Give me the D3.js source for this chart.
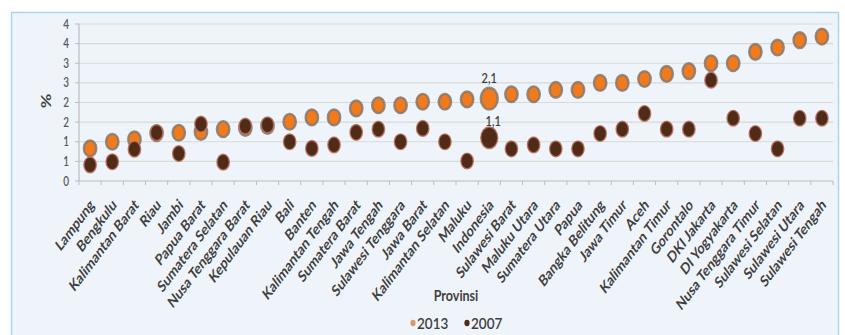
<!DOCTYPE html>
<html>
<head>
<meta charset="utf-8">
<script src="https://cdn.jsdelivr.net/npm/d3@7/dist/d3.min.js"></script>
<style>
  html, body { margin: 0; padding: 0; background: #ffffff; }
  svg { display: block; font-family: Lato, "Open Sans", sans-serif; }
</style>
</head>
<body>
<svg id="chart" width="845" height="335"></svg>
<script>
// Prevalensi per provinsi, 2013 vs 2007 (%)
const provinces = [
  "Lampung", "Bengkulu", "Kalimantan Barat", "Riau", "Jambi", "Papua Barat",
  "Sumatera Selatan", "Nusa Tenggara Barat", "Kepulauan Riau", "Bali", "Banten",
  "Kalimantan Tengah", "Sumatera Barat", "Jawa Tengah", "Sulawesi Tenggara",
  "Jawa Barat", "Kalimantan Selatan", "Maluku", "Indonesia", "Sulawesi Barat",
  "Maluku Utara", "Sumatera Utara", "Papua", "Bangka Belitung", "Jawa Timur",
  "Aceh", "Kalimantan Timur", "Gorontalo", "DKI Jakarta", "DI Yogyakarta",
  "Nusa Tenggara Timur", "Sulawesi Selatan", "Sulawesi Utara", "Sulawesi Tengah"
];
const values2013 = [
  0.83, 1.0, 1.06, 1.22, 1.23, 1.25, 1.32, 1.35, 1.4, 1.51, 1.62,
  1.62, 1.85, 1.93, 1.93, 2.02, 2.02, 2.08, 2.1, 2.21,
  2.21, 2.32, 2.32, 2.5, 2.5, 2.6, 2.73, 2.8, 3.0, 3.0,
  3.29, 3.4, 3.59, 3.68
];
const values2007 = [
  0.41, 0.49, 0.81, 1.23, 0.7, 1.45, 0.48, 1.4, 1.43, 1.0, 0.83,
  0.92, 1.24, 1.32, 1.0, 1.34, 1.0, 0.51, 1.1, 0.82,
  0.92, 0.82, 0.82, 1.21, 1.32, 1.72, 1.32, 1.32, 2.57, 1.6,
  1.21, 0.82, 1.6, 1.6
];
const seriesNames = ["2013", "2007"];
const yTickValues = [0, 0.5, 1, 1.5, 2, 2.5, 3, 3.5, 4];
const yTickLabels = ["0", "1", "1", "2", "2", "3", "3", "4", "4"];
const highlight = "Indonesia";

const svg = d3.select("#chart");
const SY = 1.27;  // vertical stretch for text and markers
const SYL = 1.33; // vertical stretch for the slanted category labels

// chart frame
svg.append("rect")
  .attr("x", 11.5).attr("y", 12.5).attr("width", 827).attr("height", 330)
  .attr("fill", "#eff4fb").attr("stroke", "#a8d6ec").attr("stroke-width", 1.5);

const x = d3.scaleBand().domain(provinces).range([79, 833]);
const y = d3.scaleLinear().domain([0, 4]).range([181, 24]);

// gridlines
svg.append("g").selectAll("line").data(yTickValues).join("line")
  .attr("x1", 79).attr("x2", 833)
  .attr("y1", d => y(d)).attr("y2", d => y(d))
  .attr("stroke", d => d === 0 ? "#b8bcc0" : "#d6dbd6").attr("stroke-width", 1.2);

// y axis line and ticks
svg.append("line").attr("x1", 79).attr("x2", 79).attr("y1", y(4)).attr("y2", y(0))
  .attr("stroke", "#b8bcc0").attr("stroke-width", 1.2);
svg.append("g").selectAll("line").data(yTickValues).join("line")
  .attr("x1", 75).attr("x2", 79)
  .attr("y1", d => y(d)).attr("y2", d => y(d))
  .attr("stroke", "#b8bcc0");
svg.append("g").selectAll("text").data(yTickValues).join("text")
  .attr("transform", d => `translate(69,${y(d) + 4.5}) scale(1,${SY})`)
  .attr("text-anchor", "end")
  .attr("font-size", 10).attr("font-weight", 600)
  .attr("fill", "#595959")
  .text((d, i) => yTickLabels[i]);

// x axis category ticks
const bounds = provinces.map(p => x(p)).concat([x.range()[1]]);
svg.append("g").selectAll("line").data(bounds).join("line")
  .attr("x1", d => d).attr("x2", d => d)
  .attr("y1", y(0)).attr("y2", y(0) + 4)
  .attr("stroke", "#b8bcc0");

// category labels
svg.append("g").selectAll("text").data(provinces).join("text")
  .attr("transform", d => `translate(${x(d) + x.bandwidth() / 2 + 5},${y(0) + 25}) scale(1,${SYL}) rotate(-45)`)
  .attr("text-anchor", "end")
  .attr("font-size", 12).attr("font-weight", 700)
  .attr("fill", "#404040")
  .text(d => d);

// axis titles
svg.append("text")
  .attr("transform", `translate(51,101) scale(1,${SY}) rotate(-90)`)
  .attr("text-anchor", "middle")
  .attr("font-size", 14).attr("font-weight", 700).attr("fill", "#404040")
  .text("%");
svg.append("text")
  .attr("transform", `translate(456,301) scale(1,1.15)`)
  .attr("text-anchor", "middle")
  .attr("font-size", 12.5).attr("font-weight", 700).attr("fill", "#404040")
  .text("Provinsi");

// markers
const cx = p => x(p) + x.bandwidth() / 2;
const series = [
  { name: seriesNames[0], values: values2013, fill: "#f07a1c", stroke: "#857870", sw: 2.4 },
  { name: seriesNames[1], values: values2007, fill: "#4f2b18", stroke: "#b8705e", sw: 1.4 }
];
series.forEach(s => {
  svg.append("g").selectAll("ellipse").data(provinces).join("ellipse")
    .attr("cx", d => cx(d))
    .attr("cy", (d, i) => y(s.values[i]))
    .attr("rx", d => d === highlight ? 8.5 : 6.2)
    .attr("ry", d => d === highlight ? 8.5 * SY : 6.2 * SY)
    .attr("fill", s.fill)
    .attr("stroke", s.stroke)
    .attr("stroke-width", s.sw)
    .attr("stroke-opacity", 0.85);
});

// value labels on the national figure
const iIdx = provinces.indexOf(highlight);
[[values2013[iIdx], 0, -16], [values2007[iIdx], 4, -12]].forEach(([v, dx, dy]) => {
  svg.append("text")
    .attr("transform", `translate(${cx(highlight) + dx},${y(v) + dy}) scale(1,${SY})`)
    .attr("text-anchor", "middle")
    .attr("font-size", 11).attr("font-weight", 600).attr("fill", "#404040")
    .text(d3.format(".1f")(v).replace(".", ","));
});

// legend
const legend = [
  { name: seriesNames[0], color: "#d99a68", x: 413 },
  { name: seriesNames[1], color: "#4f2b18", x: 467 }
];
legend.forEach(l => {
  svg.append("ellipse").attr("cx", l.x).attr("cy", 323).attr("rx", 2.6).attr("ry", 3.3)
    .attr("fill", l.color);
  svg.append("text")
    .attr("transform", `translate(${l.x + 4},328.5) scale(1,1.1)`)
    .attr("font-size", 13.5).attr("fill", "#404040").attr("font-weight", 600)
    .text(l.name);
});
</script>
</body>
</html>
